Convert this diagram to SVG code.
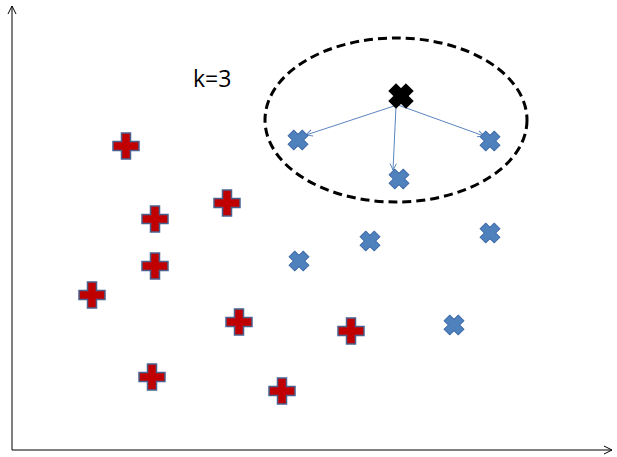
<svg xmlns="http://www.w3.org/2000/svg" width="617" height="457" viewBox="0 0 617 457">
<defs>
<style>
.axis{stroke:#000;stroke-width:1;fill:none}
.plus{fill:#c00000;stroke:#4a6190;stroke-width:1.5}
.bx{fill:#4f81bd;stroke:#3d6aa8;stroke-width:1}
.kx{fill:#000;stroke:#000;stroke-width:1}
.conn{stroke:#5b84c0;stroke-width:1;fill:none}
.lbl{font-family:"Open Sans","Liberation Sans",sans-serif;font-size:23px;fill:#000}
</style>
<path id="p" d="M-4.5,-13 H4.5 V-4.5 H13 V4.5 H4.5 V13 H-4.5 V4.5 H-13 V-4.5 H-4.5 Z"/>
<path id="x" transform="rotate(45)" d="M-4,-10 H4 V-4 H10 V4 H4 V10 H-4 V4 H-10 V-4 H-4 Z"/>
<path id="bigx" transform="rotate(45)" d="M-5,-12 H5 V-5 H12 V5 H5 V12 H-5 V5 H-12 V-5 H-5 Z"/>
<marker id="ah" viewBox="0 0 10 10" refX="9" refY="5" markerWidth="8" markerHeight="8" orient="auto" markerUnits="userSpaceOnUse">
<path d="M1,1 L9,5 L1,9" fill="none" stroke="#5b84c0" stroke-width="1.2"/>
</marker>
<marker id="axh" viewBox="0 0 10 10" refX="9" refY="5" markerWidth="10" markerHeight="10" orient="auto" markerUnits="userSpaceOnUse">
<path d="M1,1 L9,5 L1,9" fill="none" stroke="#000" stroke-width="1"/>
</marker>
</defs>
<rect width="617" height="457" fill="#fff"/>
<g id="axes">
<line class="axis" x1="12" y1="450" x2="12" y2="6" marker-end="url(#axh)"/>
<line class="axis" x1="12" y1="450" x2="612" y2="450" marker-end="url(#axh)"/>
</g>
<g id="neighborhood">
<ellipse cx="396" cy="120" rx="131" ry="82" fill="none" stroke="#000" stroke-width="3" stroke-dasharray="9,5"/>
</g>
<g id="label"><text class="lbl" x="193" y="87">k=3</text></g>
<g id="connectors">
<line class="conn" x1="397" y1="105" x2="306" y2="135" marker-end="url(#ah)"/>
<line class="conn" x1="396" y1="106" x2="393" y2="170" marker-end="url(#ah)"/>
<line class="conn" x1="398" y1="105" x2="484" y2="136" marker-end="url(#ah)"/>
</g>
<g id="red">
<use href="#p" class="plus" x="126" y="146"/>
<use href="#p" class="plus" x="155" y="219"/>
<use href="#p" class="plus" x="227" y="203"/>
<use href="#p" class="plus" x="155" y="266"/>
<use href="#p" class="plus" x="92" y="295"/>
<use href="#p" class="plus" x="239" y="322"/>
<use href="#p" class="plus" x="351" y="331"/>
<use href="#p" class="plus" x="152" y="377"/>
<use href="#p" class="plus" x="282" y="391"/>
</g>
<g id="blue">
<use href="#x" class="bx" x="298" y="140"/>
<use href="#x" class="bx" x="490" y="141"/>
<use href="#x" class="bx" x="399" y="179"/>
<use href="#x" class="bx" x="370" y="241"/>
<use href="#x" class="bx" x="490" y="233"/>
<use href="#x" class="bx" x="299" y="261"/>
<use href="#x" class="bx" x="454" y="325"/>
</g>
<g id="query"><use href="#bigx" class="kx" x="401" y="96"/></g>
</svg>
